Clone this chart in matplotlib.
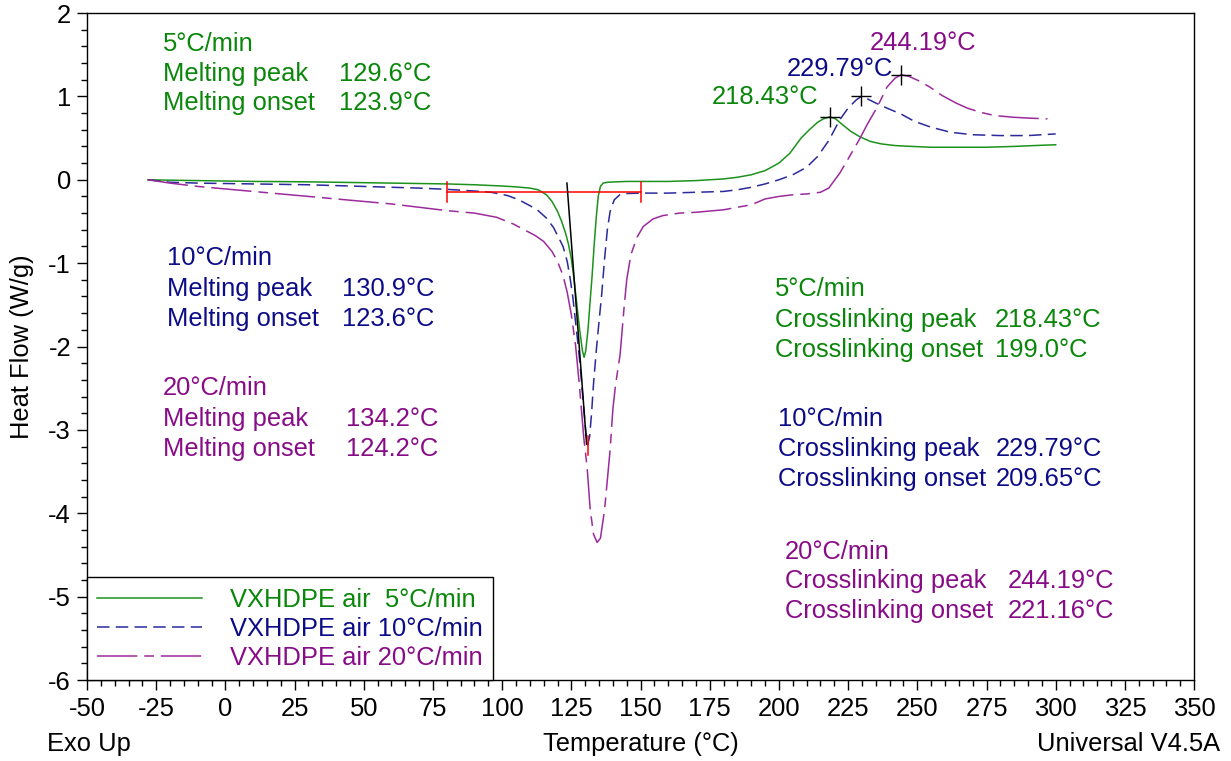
import numpy as np
import matplotlib
matplotlib.use("Agg")
import matplotlib.pyplot as plt

plt.rcParams['font.family'] = ['Liberation Sans', 'DejaVu Sans']
plt.rcParams['axes.unicode_minus'] = False
plt.rcParams['lines.scale_dashes'] = False

# DSC heat flow curves, VXHDPE in air at three heating rates
t_5 = [-28, -20, -10, 0, 10, 20, 30, 40, 50, 60, 70, 80, 90, 100, 105, 110, 113, 116,
       118, 120, 121.5, 123, 124, 125, 126, 127, 128, 129, 129.6, 130.2, 131, 131.8,
       132.5, 133.2, 134, 134.7, 135.5, 136.5, 138, 141, 145, 150, 160, 170, 180, 185,
       190, 195, 200, 204, 208, 211, 214, 216, 218.4, 220.5, 223, 226, 229, 233, 237,
       242, 248, 255, 265, 275, 285, 292, 300]
hf_5 = [0, -0.005, -0.01, -0.015, -0.02, -0.022, -0.025, -0.03, -0.035, -0.04, -0.045,
        -0.05, -0.06, -0.075, -0.085, -0.1, -0.12, -0.18, -0.26, -0.38, -0.5, -0.65,
        -0.78, -0.95, -1.2, -1.5, -1.8, -2.05, -2.13, -2.05, -1.8, -1.45, -1.15, -0.8,
        -0.45, -0.2, -0.08, -0.04, -0.03, -0.025, -0.02, -0.02, -0.02, -0.01, 0.01, 0.03,
        0.06, 0.11, 0.2, 0.32, 0.5, 0.6, 0.69, 0.73, 0.755, 0.73, 0.66, 0.58, 0.52, 0.46,
        0.43, 0.41, 0.4, 0.39, 0.39, 0.39, 0.4, 0.41, 0.42]

t_10 = [-28, -20, -10, 0, 10, 20, 30, 40, 50, 60, 70, 80, 90, 96, 102, 106, 110, 113,
        116, 118.5, 120.5, 122, 123.5, 124.5, 125.5, 126.5, 127.5, 128.5, 129.5, 130.3,
        130.9, 131.6, 132.3, 133, 134, 135, 136, 137, 138, 139, 140.5, 142.5, 145, 150,
        160, 170, 180, 185, 190, 195, 200, 205, 210, 214, 218, 222, 225, 228, 229.8, 232,
        235, 239, 244, 249, 255, 262, 270, 280, 290, 300]
hf_10 = [0, -0.03, -0.04, -0.045, -0.05, -0.055, -0.06, -0.07, -0.08, -0.09, -0.1, -0.115,
         -0.135, -0.15, -0.19, -0.24, -0.31, -0.37, -0.46, -0.57, -0.7, -0.8, -0.98, -1.17,
         -1.4, -1.7, -2.0, -2.35, -2.75, -3.05, -3.18, -3.08, -2.8, -2.45, -2.05, -1.7,
         -1.36, -0.95, -0.6, -0.38, -0.24, -0.18, -0.165, -0.16, -0.16, -0.15, -0.14, -0.12,
         -0.09, -0.05, 0.0, 0.06, 0.15, 0.28, 0.47, 0.72, 0.86, 0.96, 1.0, 0.97, 0.92,
         0.86, 0.79, 0.7, 0.63, 0.57, 0.54, 0.53, 0.53, 0.55]

t_20 = [-28, -20, -10, 0, 10, 20, 30, 40, 50, 60, 70, 80, 90, 98, 104, 108, 112, 115, 118,
        120, 122, 123.5, 125, 126.5, 128, 129.5, 130.7, 131.8, 133, 134.3, 135.5, 137, 138,
        139, 140, 141, 142.6, 144, 145, 146.5, 148.7, 151, 154.5, 158, 164, 170, 180, 190,
        195, 200, 205, 210, 215, 218, 222, 225, 229, 232, 235.5, 239, 242, 244.2, 247, 251,
        254.6, 259, 264, 268, 272.7, 278, 284.6, 290, 297]
hf_20 = [0, -0.04, -0.08, -0.11, -0.14, -0.17, -0.2, -0.23, -0.26, -0.29, -0.33, -0.37,
         -0.4, -0.45, -0.53, -0.6, -0.67, -0.74, -0.86, -0.98, -1.15, -1.35, -1.62, -1.98,
         -2.5, -3.1, -3.45, -3.95, -4.25, -4.35, -4.3, -3.96, -3.6, -3.24, -2.75, -2.45,
         -2.1, -1.55, -1.2, -0.9, -0.69, -0.56, -0.47, -0.43, -0.4, -0.39, -0.36, -0.3,
         -0.23, -0.2, -0.18, -0.17, -0.15, -0.1, 0.08, 0.25, 0.48, 0.67, 0.87, 1.11, 1.22,
         1.26, 1.24, 1.18, 1.11, 1.01, 0.92, 0.86, 0.81, 0.77, 0.75, 0.74, 0.73]

rates = ['5°C/min', '10°C/min', '20°C/min']
legend_labels = ['VXHDPE air  5°C/min', 'VXHDPE air 10°C/min', 'VXHDPE air 20°C/min']
melt_peak = ['129.6°C', '130.9°C', '134.2°C']
melt_onset = ['123.9°C', '123.6°C', '124.2°C']
xl_peak_t = [218.43, 229.79, 244.19]
xl_peak_hf = [0.755, 1.0, 1.26]
xl_onset = ['199.0°C', '209.65°C', '221.16°C']

line_colors = ['#1c921c', '#2a2a9c', '#9c2a9c']
text_colors = ['#0a870a', '#0c0c88', '#880c88']
dash_styles = ['-', (0, (9, 4.5)), (0, (29, 5, 7, 5))]

fig = plt.figure(figsize=(12.31, 7.61), dpi=100)
ax = fig.add_axes([0.0707, 0.1064, 0.8993, 0.8765])

series = [(t_5, hf_5), (t_10, hf_10), (t_20, hf_20)]
for (t, hf), c, ls, lab in zip(series, line_colors, dash_styles, legend_labels):
    ax.plot(t, hf, color=c, linestyle=ls, linewidth=1.1, label=lab)

# onset construction for the melting endotherm
ax.plot([80, 150], [-0.15, -0.15], color='red', linewidth=1.1)
for tx in (80, 150):
    ax.plot([tx, tx], [-0.03, -0.27], color='red', linewidth=1.1)
ax.plot([123.4, 130.5], [-0.04, -3.17], color='black', linewidth=1.1)
ax.plot([131.1, 131.1], [-3.07, -3.3], color='red', linewidth=1.1)

fs = 18.4

# crosslinking exotherm peak markers and labels
peak_label_pos = [(175.8, 0.99), (202.9, 1.33), (232.9, 1.64)]
for tp, hp, c, (lx, ly) in zip(xl_peak_t, xl_peak_hf, text_colors, peak_label_pos):
    ax.plot(tp, hp, marker='+', color='black', markersize=14, markeredgewidth=1.0)
    ax.text(lx, ly, '%.2f°C' % tp, color=c, fontsize=fs, va='center', ha='left')

# melting summary blocks (left side)
melt_pos = [(-22.5, 41.0, [1.628, 1.268, 0.921]),
            (-21.1, 42.1, [-0.939, -1.31, -1.67]),
            (-22.5, 43.6, [-2.498, -2.87, -3.229])]
for i, (x0, xv, ys) in enumerate(melt_pos):
    c = text_colors[i]
    ax.text(x0, ys[0], rates[i], color=c, fontsize=fs, va='center')
    ax.text(x0, ys[1], 'Melting peak', color=c, fontsize=fs, va='center')
    ax.text(xv, ys[1], melt_peak[i], color=c, fontsize=fs, va='center')
    ax.text(x0, ys[2], 'Melting onset', color=c, fontsize=fs, va='center')
    ax.text(xv, ys[2], melt_onset[i], color=c, fontsize=fs, va='center')

# crosslinking summary blocks (right side)
xl_pos = [(198.6, 278.1, [-1.31, -1.682, -2.042]),
          (199.7, 278.5, [-2.87, -3.229, -3.589]),
          (202.2, 282.8, [-4.465, -4.813, -5.172])]
for i, (x0, xv, ys) in enumerate(xl_pos):
    c = text_colors[i]
    ax.text(x0, ys[0], rates[i], color=c, fontsize=fs, va='center')
    ax.text(x0, ys[1], 'Crosslinking peak', color=c, fontsize=fs, va='center')
    ax.text(xv, ys[1], '%.2f°C' % xl_peak_t[i], color=c, fontsize=fs, va='center')
    ax.text(x0, ys[2], 'Crosslinking onset', color=c, fontsize=fs, va='center')
    ax.text(xv, ys[2], xl_onset[i], color=c, fontsize=fs, va='center')

ax.set_xlim(-50, 350)
ax.set_ylim(-6, 2)
ax.set_xticks(np.arange(-50, 351, 25))
ax.set_xticks(np.arange(-50, 351, 5), minor=True)
ax.set_yticks(np.arange(-6, 2.1, 1))
ax.set_yticks(np.arange(-6, 2.01, 0.2), minor=True)
ax.tick_params(axis='both', which='major', direction='out', length=7.5, width=1,
               labelsize=fs, pad=5)
ax.tick_params(axis='both', which='minor', direction='out', length=4, width=1)
ax.tick_params(axis='y', which='major', pad=4)
for sp in ax.spines.values():
    sp.set_linewidth(1.0)
    sp.set_color('black')

leg = ax.legend(loc='lower left', bbox_to_anchor=(0.0, 0.0), borderaxespad=0.0,
                fontsize=fs, handlelength=4.1, handletextpad=1.1, labelspacing=0.2,
                borderpad=0.4, fancybox=False, framealpha=1, edgecolor='black')
leg.get_frame().set_linewidth(1.0)
for txt, c in zip(leg.get_texts(), text_colors):
    txt.set_color(c)

fig.text(22 / 1231, 1 - 347 / 761, 'Heat Flow (W/g)', rotation=90, fontsize=fs,
         ha='center', va='center')
fig.text(641 / 1231, 1 - 744 / 761, 'Temperature (°C)', fontsize=fs, ha='center', va='center')
fig.text(47 / 1231, 1 - 744 / 761, 'Exo Up', fontsize=fs, ha='left', va='center')
fig.text(1220 / 1231, 1 - 744 / 761, 'Universal V4.5A', fontsize=fs, ha='right', va='center')

fig.savefig('out.png', dpi=100)
